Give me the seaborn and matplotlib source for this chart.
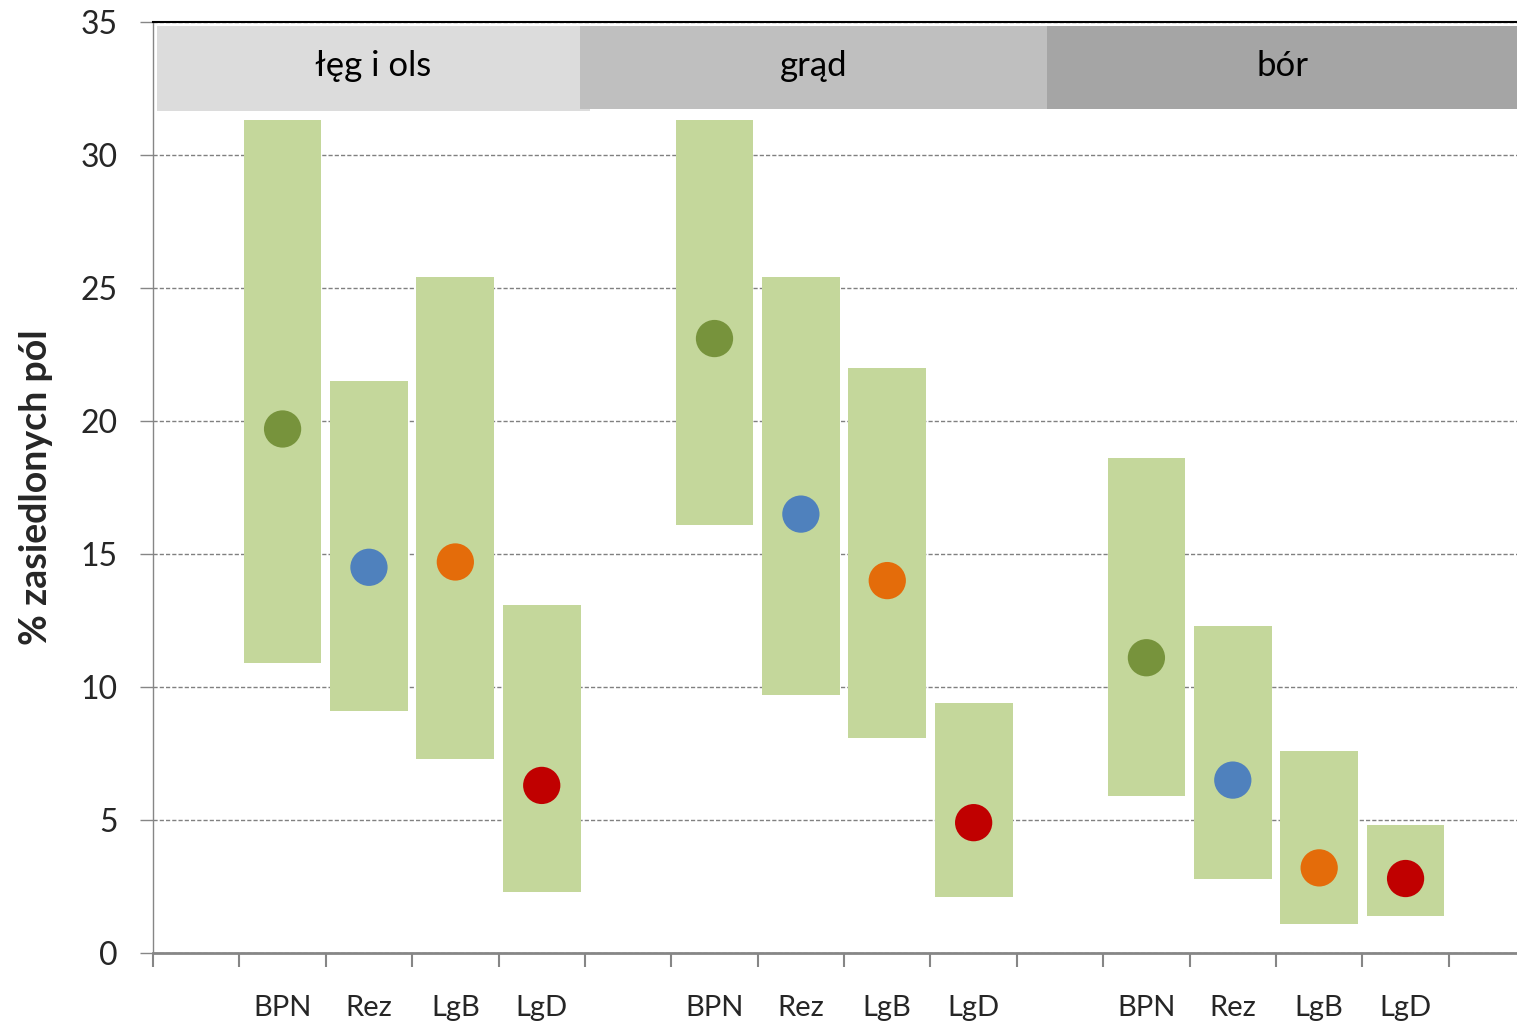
import numpy as np
import pandas as pd
import matplotlib
matplotlib.use("Agg")
import matplotlib.pyplot as plt
import seaborn as sns
from matplotlib.patches import Rectangle

# ---- data ----
habitats = ["łęg i ols", "grąd", "bór"]
methods = ["BPN", "Rez", "LgB", "LgD"]
point_values = [19.7, 14.5, 14.7, 6.3,
                23.1, 16.5, 14.0, 4.9,
                11.1, 6.5, 3.2, 2.8]
range_low = [10.9, 9.1, 7.3, 2.3,
             16.1, 9.7, 8.1, 2.1,
             5.9, 2.8, 1.1, 1.4]
range_high = [31.3, 21.5, 25.4, 13.1,
              31.3, 25.4, 22.0, 9.4,
              18.6, 12.3, 7.6, 4.8]
method_colors = ["#77933c", "#4f81bd", "#e46c0a", "#c00000"]
habitat_colors = ["#dcdcdc", "#bfbfbf", "#a5a5a5"]
y_ticks = [0, 5, 10, 15, 20, 25, 30, 35]

rows = []
k = 0
for gi, h in enumerate(habitats):
    for mi, m in enumerate(methods):
        rows.append(dict(habitat=h, method=m, pos=gi * 5 + mi + 1,
                         value=point_values[k], low=range_low[k], high=range_high[k]))
        k += 1
df = pd.DataFrame(rows)

sns.set_style("white")
plt.rcParams["font.family"] = ["Lato", "DejaVu Sans"]

W, H = 1517, 1026
fig = plt.figure(figsize=(W / 100, H / 100), dpi=100)
ax = fig.add_axes([153 / W, 1 - 953 / H, (W - 153) / W, (953 - 22) / H])

# range bars
ax.bar(df["pos"], df["high"] - df["low"], bottom=df["low"], width=0.9,
       color="#c4d79b", zorder=2, linewidth=0)

# points
sns.scatterplot(data=df, x="pos", y="value", hue="method",
                palette=dict(zip(methods, method_colors)), s=720,
                edgecolor="none", linewidth=0, legend=False, zorder=3, ax=ax)

ax.set_xlim(-0.5, 15.29)
ax.set_ylim(0, 35)
ax.set_yticks(y_ticks)
ax.set_yticklabels([str(t) for t in y_ticks])

# major ticks at slot boundaries, minor for labels
ax.set_xticks(np.arange(0, 16) - 0.5)
ax.set_xticklabels([])
ax.set_xticks(df["pos"], minor=True)
ax.set_xticklabels(df["method"], minor=True)
ax.tick_params(axis="x", which="major", direction="out", length=10, width=1.5,
               color="#868686", bottom=True)
ax.tick_params(axis="x", which="minor", length=0, pad=30, labelsize=21)
ax.tick_params(axis="y", direction="out", length=9.5, width=1, color="#868686",
               pad=16, labelsize=23, left=True)

ax.yaxis.grid(True, linestyle=(0, (3, 1.5)), color="#808080", linewidth=1)
ax.xaxis.grid(False)
ax.set_axisbelow(True)

ax.spines["right"].set_visible(False)
ax.spines["top"].set_color("black")
ax.spines["top"].set_linewidth(1.5)
ax.spines["left"].set_color("#868686")
ax.spines["left"].set_linewidth(1)
ax.spines["bottom"].set_color("#868686")
ax.spines["bottom"].set_linewidth(2)

ax.set_xlabel("")
ax.set_ylabel("% zasiedlonych pól", fontsize=27, fontweight="bold", labelpad=20)

# habitat header bands
band_x = [(-0.454, 4.558, 31.65), (4.44, 9.85, 31.73), (9.85, 15.4, 31.73)]
for (x0, x1, y0), col, name in zip(band_x, habitat_colors, habitats):
    ax.add_patch(Rectangle((x0, y0), x1 - x0, 34.85 - y0, facecolor=col,
                           edgecolor="none", zorder=4, clip_on=True))
    xc = (x0 + min(x1, 15.29)) / 2
    ax.text(xc, 33.35, name, ha="center", va="center", fontsize=25,
            color="black", zorder=5)

fig.savefig("out.png", dpi=100)
